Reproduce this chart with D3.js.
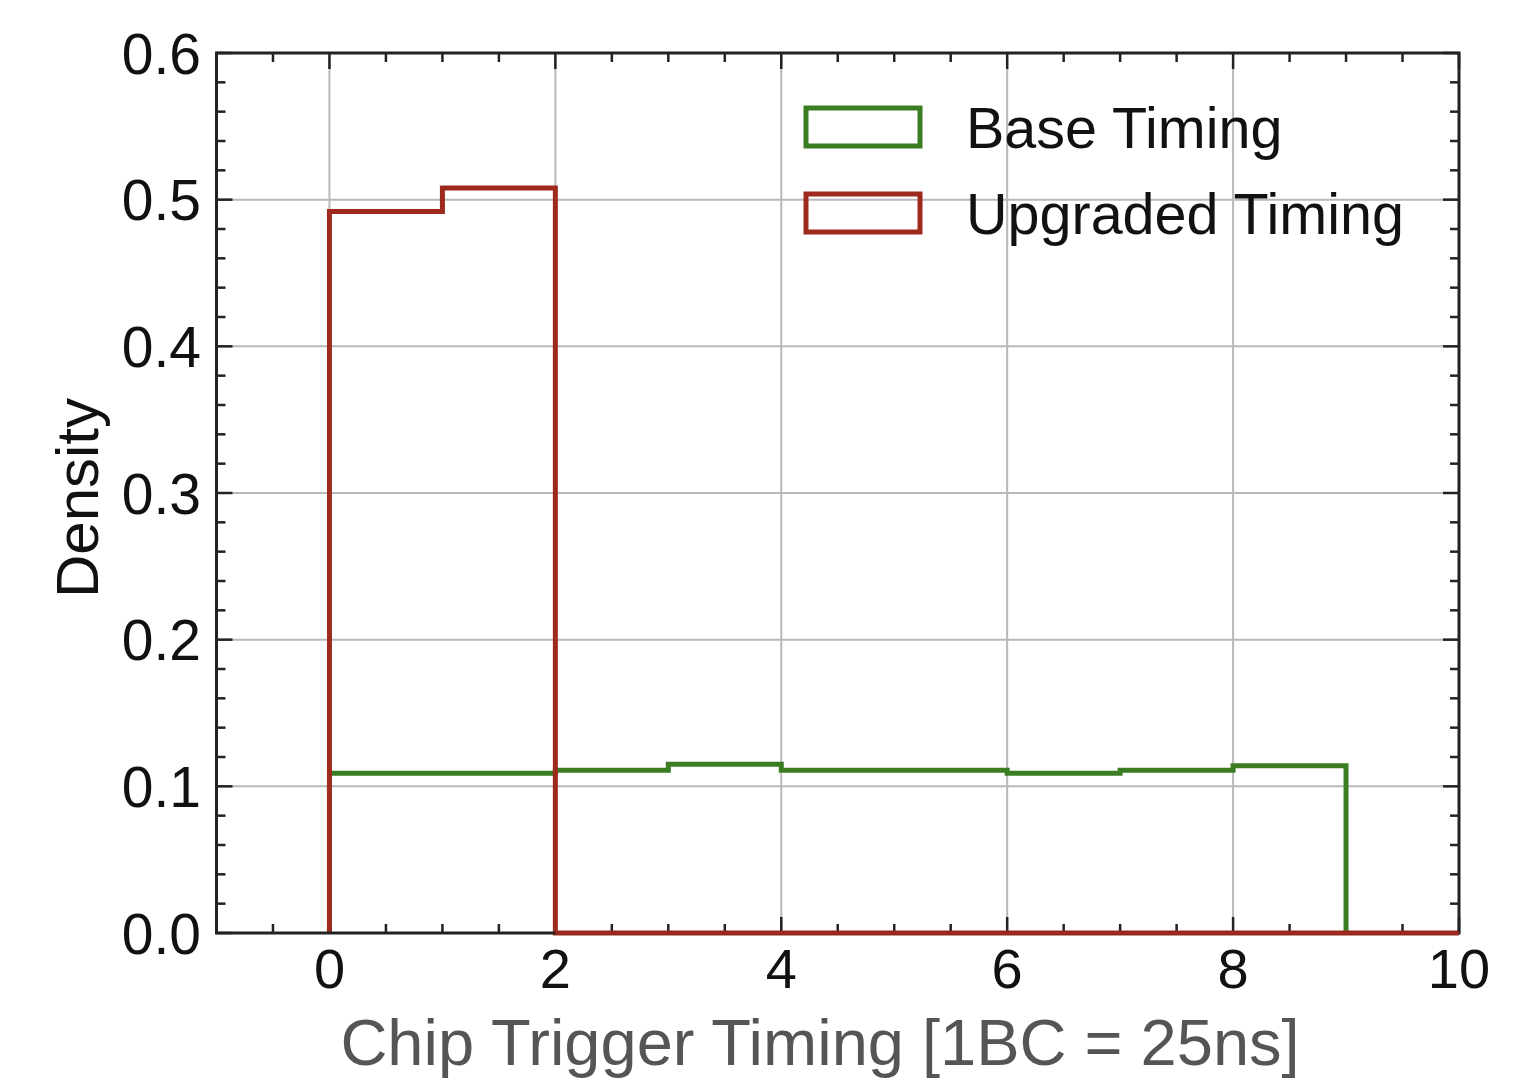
<!DOCTYPE html>
<html>
<head>
<meta charset="utf-8">
<script src="https://cdn.jsdelivr.net/npm/d3@7"></script>
<style>
  html, body { margin: 0; padding: 0; background: #fff; }
  svg { display: block; font-family: "Liberation Sans", Arial, Helvetica, sans-serif; }
</style>
</head>
<body>
<svg id="chart" width="1537" height="1083"></svg>
<script>
// Histogram bin edges (bunch crossings) and densities per bin
const baseEdges = [0, 1, 2, 3, 4, 5, 6, 7, 8, 9];
const baseDensity = [0.109, 0.109, 0.111, 0.115, 0.111, 0.111, 0.109, 0.111, 0.114];

const upgradedEdges = [0, 1, 2, 3, 4, 5, 6, 7, 8, 9, 10];
const upgradedDensity = [0.492, 0.508, 0, 0, 0, 0, 0, 0, 0, 0];

const seriesNames = ["Base Timing", "Upgraded Timing"];
const seriesColors = ["#3b7d23", "#9e2a1e"];

const xTicks = [0, 2, 4, 6, 8, 10];
const yTicks = [0.0, 0.1, 0.2, 0.3, 0.4, 0.5, 0.6];
const xLabel = "Chip Trigger Timing [1BC = 25ns]";
const yLabel = "Density";

const margin = { left: 216.5, right: 1459, top: 53, bottom: 933 };

const svg = d3.select("#chart");

const x = d3.scaleLinear().domain([-1, 10]).range([margin.left, margin.right]);
const y = d3.scaleLinear().domain([0, 0.6]).range([margin.bottom, margin.top]);

// grid lines at major ticks
const grid = svg.append("g").attr("class", "grid");
grid.selectAll("line.gx")
  .data(xTicks.filter(t => t > -1 && t < 10))
  .join("line")
  .attr("x1", d => x(d)).attr("x2", d => x(d))
  .attr("y1", y(0)).attr("y2", y(0.6))
  .attr("stroke", "#b8b8b8").attr("stroke-width", 2);
grid.selectAll("line.gy")
  .data(yTicks.filter(t => t > 0 && t < 0.6))
  .join("line")
  .attr("x1", x(-1)).attr("x2", x(10))
  .attr("y1", d => y(d)).attr("y2", d => y(d))
  .attr("stroke", "#b8b8b8").attr("stroke-width", 2);

// step outline for a histogram
function stepPoints(edges, vals) {
  const pts = [[edges[0], 0]];
  vals.forEach((v, i) => {
    pts.push([edges[i], v]);
    pts.push([edges[i + 1], v]);
  });
  pts.push([edges[edges.length - 1], 0]);
  return pts;
}
const line = d3.line().x(d => x(d[0])).y(d => y(d[1]));

// frame and ticks
const frameColor = "#222";
const minorX = d3.range(-1, 10.001, 0.5);
const minorY = d3.range(0, 0.6001, 0.02);
const ticks = svg.append("g").attr("stroke", frameColor).attr("stroke-width", 2.5);
minorX.forEach(t => {
  const isMaj = xTicks.some(m => Math.abs(m - t) < 1e-6);
  const len = isMaj ? 16 : 9;
  ticks.append("line").attr("x1", x(t)).attr("x2", x(t)).attr("y1", y(0)).attr("y2", y(0) - len);
  ticks.append("line").attr("x1", x(t)).attr("x2", x(t)).attr("y1", y(0.6)).attr("y2", y(0.6) + len);
});
minorY.forEach(t => {
  const isMaj = yTicks.some(m => Math.abs(m - t) < 1e-6);
  const len = isMaj ? 16 : 9;
  ticks.append("line").attr("y1", y(t)).attr("y2", y(t)).attr("x1", x(-1)).attr("x2", x(-1) + len);
  ticks.append("line").attr("y1", y(t)).attr("y2", y(t)).attr("x1", x(10)).attr("x2", x(10) - len);
});

// histograms
svg.append("path")
  .datum(stepPoints(baseEdges, baseDensity))
  .attr("d", line)
  .attr("fill", "none")
  .attr("stroke", seriesColors[0])
  .attr("stroke-width", 5)
  .attr("stroke-linejoin", "miter");
svg.append("path")
  .datum(stepPoints(upgradedEdges, upgradedDensity))
  .attr("d", line)
  .attr("fill", "none")
  .attr("stroke", seriesColors[1])
  .attr("stroke-width", 5)
  .attr("stroke-linejoin", "miter");

svg.append("rect")
  .attr("x", x(-1)).attr("y", y(0.6))
  .attr("width", x(10) - x(-1)).attr("height", y(0) - y(0.6))
  .attr("fill", "none").attr("stroke", frameColor).attr("stroke-width", 3);

// red baseline drawn over the frame where the upgraded histogram runs along zero
svg.append("line")
  .attr("x1", x(upgradedEdges[2])).attr("x2", x(upgradedEdges[upgradedEdges.length - 1]))
  .attr("y1", y(0)).attr("y2", y(0))
  .attr("stroke", seriesColors[1]).attr("stroke-width", 3.5);

// tick labels
svg.append("g").selectAll("text")
  .data(xTicks)
  .join("text")
  .attr("x", d => x(d))
  .attr("y", 988)
  .attr("text-anchor", "middle")
  .attr("font-size", 56)
  .attr("fill", "#111")
  .text(d => d3.format("d")(d));

svg.append("g").selectAll("text")
  .data(yTicks)
  .join("text")
  .attr("x", 201)
  .attr("y", d => y(d))
  .attr("dy", "0.36em")
  .attr("text-anchor", "end")
  .attr("font-size", 57)
  .attr("fill", "#111")
  .text(d => d3.format(".1f")(d));

// axis titles
svg.append("text")
  .attr("x", 820)
  .attr("y", 1065)
  .attr("text-anchor", "middle")
  .attr("font-size", 65)
  .attr("fill", "#555")
  .text(xLabel);

svg.append("text")
  .attr("transform", "translate(98,498) rotate(-90)")
  .attr("text-anchor", "middle")
  .attr("font-size", 60)
  .attr("fill", "#111")
  .text(yLabel);

// legend
const legend = svg.append("g");
seriesNames.forEach((name, i) => {
  const cy = 127 + i * 86;
  legend.append("rect")
    .attr("x", 806).attr("y", cy - 19)
    .attr("width", 114).attr("height", 38)
    .attr("fill", "none")
    .attr("stroke", seriesColors[i])
    .attr("stroke-width", 5);
  legend.append("text")
    .attr("x", 966).attr("y", cy)
    .attr("dy", "0.36em")
    .attr("font-size", 57.5)
    .attr("fill", "#111")
    .text(name);
});
</script>
</body>
</html>
